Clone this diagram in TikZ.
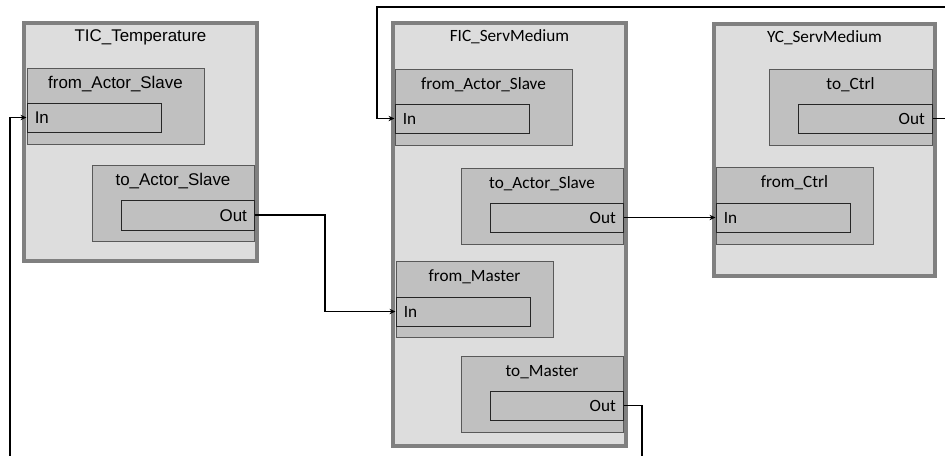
\documentclass[tikz,border=0pt]{standalone}
\usepackage{fontspec}
\setmainfont{Carlito}
\newfontfamily\arialfont{Liberation Sans}
\usepackage{xcolor}
\definecolor{ctrlfill}{HTML}{DDDDDD}
\definecolor{ctrlline}{HTML}{808080}
\definecolor{fbfill}{HTML}{C0C0C0}
\definecolor{fbline}{HTML}{595959}
\definecolor{portline}{HTML}{262626}
\usepackage{tikz}
\usetikzlibrary{positioning,arrows.meta,fit,calc}

\begin{document}
\begin{tikzpicture}[x=0.75pt, y=-0.75pt,
    every node/.style={font=\fontsize{12.9}{15}\selectfont},
    arialtxt/.style={font=\arialfont\fontsize{12.7}{15}\selectfont},
    ctrl/.style={draw=ctrlline, fill=ctrlfill, line width=3pt, inner sep=0pt},
    fb/.style={draw=fbline, fill=fbfill, line width=0.75pt, inner sep=0pt},
    port/.style={draw=portline, fill=fbfill, line width=0.75pt, inner sep=0pt},
    title/.style={anchor=base, inner sep=0pt},
    wire/.style={draw=black, line width=1.35pt, -{Stealth[length=4.5pt, width=4pt]}}]
  \useasboundingbox (0,0) rectangle (945,455);

  % controllers
  \node[ctrl, fit={(24,23) (257,261)}] (tic) {};
  \node[ctrl, fit={(393,23) (626,446)}] (fic) {};
  \node[ctrl, fit={(714,24) (935,276)}] (yc) {};
  \node[title, arialtxt] (ticT) at ([yshift=-15.5pt]tic.north) {TIC\_Temperature};
  \node[title] (ficT) at ([yshift=-15.5pt]fic.north) {FIC\_ServMedium};
  \node[title] (ycT) at ([yshift=-15.5pt]yc.north) {YC\_ServMedium};

  % TIC_Temperature blocks
  \node[fb, fit={(27,68) (204,144)}] (ticAs) {};
  \node[port, fit={(27,103) (161,132)}] (ticAsIn) {};
  \node[fb, fit={(92,165) (254,241)}] (ticTo) {};
  \node[port, fit={(121,200) (254,230)}] (ticToOut) {};
  \node[title, arialtxt] (ticAsT) at ([yshift=-15.75pt]ticAs.north) {from\_Actor\_Slave};
  \node[title, arialtxt] (ticToT) at ([yshift=-15.75pt]ticTo.north) {to\_Actor\_Slave};
  \node[anchor=base west, inner sep=0pt, arialtxt] (ticAsInT) at ([xshift=6pt, yshift=-4.5pt]ticAsIn.west) {In};
  \node[anchor=base east, inner sep=0pt, arialtxt] (ticToOutT) at ([xshift=-5.5pt, yshift=-4.5pt]ticToOut.east) {Out};

  % FIC_ServMedium blocks
  \node[fb, fit={(395,69) (572,145)}] (ficAs) {};
  \node[port, fit={(395,104) (529,133)}] (ficAsIn) {};
  \node[fb, fit={(461,168) (623,244)}] (ficTo) {};
  \node[port, fit={(490,203) (623,232)}] (ficToOut) {};
  \node[fb, fit={(396,261) (553,337)}] (ficMa) {};
  \node[port, fit={(396,297) (530,326)}] (ficMaIn) {};
  \node[fb, fit={(461,356) (623,432)}] (ficTm) {};
  \node[port, fit={(490,391) (623,420)}] (ficTmOut) {};
  \node[title] (ficAsT) at ([yshift=-15.75pt]ficAs.north) {from\_Actor\_Slave};
  \node[title] (ficToT) at ([yshift=-15.75pt]ficTo.north) {to\_Actor\_Slave};
  \node[title] (ficMaT) at ([yshift=-15.75pt]ficMa.north) {from\_Master};
  \node[title] (ficTmT) at ([yshift=-15.75pt]ficTm.north) {to\_Master};
  \node[anchor=base west, inner sep=0pt] (ficAsInT) at ([xshift=6pt, yshift=-4.5pt]ficAsIn.west) {In};
  \node[anchor=base east, inner sep=0pt] (ficToOutT) at ([xshift=-5.5pt, yshift=-4.5pt]ficToOut.east) {Out};
  \node[anchor=base west, inner sep=0pt] (ficMaInT) at ([xshift=6pt, yshift=-4.5pt]ficMaIn.west) {In};
  \node[anchor=base east, inner sep=0pt] (ficTmOutT) at ([xshift=-5.5pt, yshift=-4.5pt]ficTmOut.east) {Out};

  % YC_ServMedium blocks
  \node[fb, fit={(769,69) (932,145)}] (ycTo) {};
  \node[port, fit={(798,104) (932,133)}] (ycToOut) {};
  \node[fb, fit={(716,167) (873,244)}] (ycFr) {};
  \node[port, fit={(716,203) (850,232)}] (ycFrIn) {};
  \node[title] (ycToT) at ([yshift=-15.75pt]ycTo.north) {to\_Ctrl};
  \node[title] (ycFrT) at ([yshift=-15.75pt]ycFr.north) {from\_Ctrl};
  \node[anchor=base west, inner sep=0pt] (ycFrInT) at ([xshift=6pt, yshift=-4.5pt]ycFrIn.west) {In};
  \node[anchor=base east, inner sep=0pt] (ycToOutT) at ([xshift=-5.5pt, yshift=-4.5pt]ycToOut.east) {Out};

  % wires (the returns run outside the visible area)
  \coordinate (rtop) at (955,7);
  \coordinate (ltop) at (377,7);
  \coordinate (rbot) at (642,470);
  \coordinate (lbot) at (10,470);
  \coordinate (mid) at ($(ticToOut.east)!.5!(ficMaIn.west)$);
  \draw[wire] (ticToOut.east) -| (mid) |- (ficMaIn.west);
  \draw[wire] (ficToOut.east) -- (ycFrIn.west);
  \draw[wire] (ycToOut.east) -| (rtop) -- (ltop) |- (ficAsIn.west);
  \draw[wire] (ficTmOut.east) -| (rbot) -- (lbot) |- (ticAsIn.west);
\end{tikzpicture}
\end{document}
